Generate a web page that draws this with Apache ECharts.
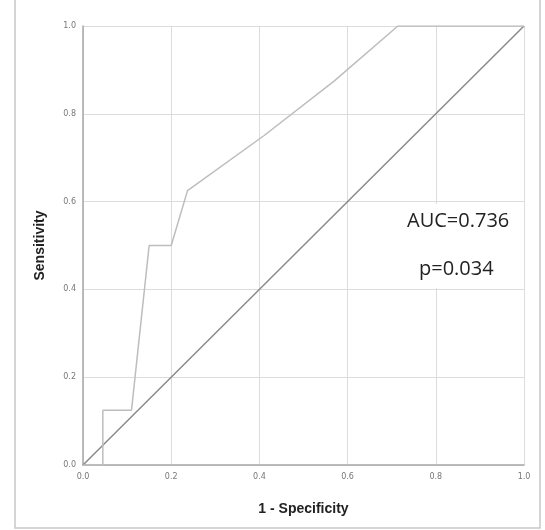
<!DOCTYPE html>
<html>
<head>
<meta charset="utf-8">
<script src="https://cdn.jsdelivr.net/npm/echarts@6/dist/echarts.min.js"></script>
<style>
html,body{margin:0;padding:0;background:#fff;}
#chart{width:545px;height:530px;}
</style>
</head>
<body>
<div id="chart"></div>
<script>
// ROC curve (1 - specificity, sensitivity)
var rocX = [0, 0.045, 0.045, 0.11, 0.15, 0.2, 0.237, 0.41, 0.57, 0.714, 1];
var rocY = [0, 0, 0.125, 0.125, 0.5, 0.5, 0.625, 0.75, 0.875, 1, 1];
// reference diagonal
var refX = [0, 1];
var refY = [0, 1];
var tickLabels = ['0.0', '0.2', '0.4', '0.6', '0.8', '1.0'];
var xName = '1 - Specificity';
var yName = 'Sensitivity';
var annotations = ['AUC=0.736', 'p=0.034'];

function pairs(xs, ys) { return xs.map(function (x, i) { return [x, ys[i]]; }); }

var chart = echarts.init(document.getElementById('chart'), null, { renderer: 'canvas' });
var axisCommon = {
  type: 'value', min: 0, max: 1, interval: 0.2,
  nameLocation: 'middle',
  nameTextStyle: { fontFamily: 'Liberation Sans, Arial, sans-serif', fontWeight: 'bold', fontSize: 14, color: '#222' },
  axisLine: { show: true, lineStyle: { color: '#a8a8a8', width: 1.5 } },
  axisTick: { show: false },
  axisLabel: {
    fontSize: 8, color: '#777', fontFamily: 'DejaVu Sans, sans-serif',
    formatter: function (v) { return tickLabels[Math.round(v / 0.2)]; }
  },
  splitLine: { show: true, lineStyle: { color: '#dcdcdc', width: 1 } }
};
chart.setOption({
  animation: false,
  backgroundColor: '#fff',
  grid: { left: 83, right: 21, top: 26, bottom: 65, containLabel: false },
  xAxis: Object.assign({}, axisCommon, { name: xName, nameGap: 37, axisLabel: Object.assign({}, axisCommon.axisLabel, { margin: 8 }) }),
  yAxis: Object.assign({}, axisCommon, { name: yName, nameGap: 36, axisLabel: Object.assign({}, axisCommon.axisLabel, { margin: 7 }) }),
  series: [
    {
      type: 'line', data: pairs(refX, refY), symbol: 'none',
      lineStyle: { color: '#8a8a8a', width: 1.5 }, z: 3
    },
    {
      type: 'line', data: pairs(rocX, rocY), symbol: 'none',
      lineStyle: { color: '#bdbdbd', width: 1.5 }, z: 4
    }
  ],
  graphic: [
    {
      type: 'rect', shape: { x: 15, y: -2, width: 525, height: 530 },
      style: { fill: 'none', stroke: '#c8c8c8', lineWidth: 1.5 }, silent: true, z: -1
    },
    {
      type: 'rect', shape: { x: 400, y: 204, width: 122, height: 84 },
      style: { fill: '#fff' }, silent: true, z: 9
    },
    {
      type: 'text', left: 407, top: 211, z: 10,
      style: { text: annotations[0], fontSize: 20, fontFamily: 'Open Sans, sans-serif', fill: '#222' }
    },
    {
      type: 'text', left: 419, top: 259, z: 10,
      style: { text: annotations[1], fontSize: 20, fontFamily: 'Open Sans, sans-serif', fill: '#222' }
    }
  ]
});
</script>
</body>
</html>
